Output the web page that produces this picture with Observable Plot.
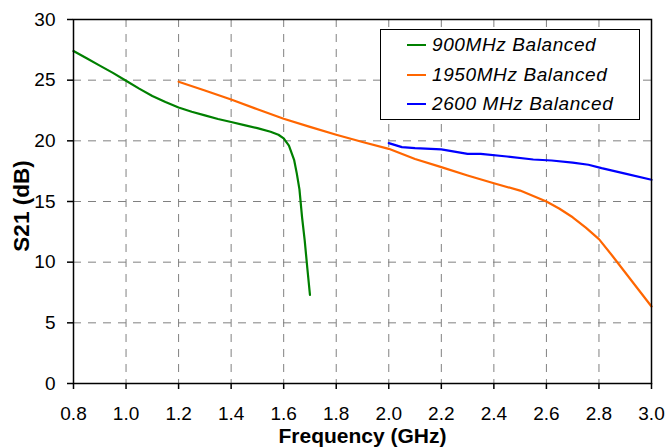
<!DOCTYPE html>
<html>
<head>
<meta charset="utf-8">
<script src="https://cdn.jsdelivr.net/npm/d3@7"></script>
<script src="https://cdn.jsdelivr.net/npm/@observablehq/plot@0.6"></script>
<style>
  html, body { margin: 0; padding: 0; background: #fff; }
  #wrap { position: relative; width: 667px; height: 447px; font-family: "Liberation Sans", Arial, sans-serif; overflow: hidden; }
  #wrap svg { overflow: visible; }
  #legend { position: absolute; left: 380px; top: 29px; width: 258px; height: 89px; border: 1px solid #000; background: #fff; box-sizing: content-box; }
  .swatch { position: absolute; left: 26px; width: 19px; height: 2px; }
  .lbl { position: absolute; left: 51px; font-style: italic; font-size: 19px; letter-spacing: 0.6px; white-space: nowrap; line-height: 20px; }
  #ytitle { position: absolute; left: 22px; top: 206px; transform: translate(-50%, -50%) rotate(-90deg); font-weight: bold; font-size: 22.5px; line-height: 22px; white-space: nowrap; color: #000; }
</style>
</head>
<body>
<div id="wrap"><div id="legend"></div><div id="ytitle"></div></div>
<script>
// ---- data ----
const seriesNames = ["900MHz Balanced", "1950MHz Balanced", "2600 MHz Balanced"];
const seriesColors = ["#008000", "#ff6600", "#0000ff"];

const freq900 = [0.80, 0.85, 0.90, 0.95, 1.00, 1.05, 1.10, 1.15, 1.20, 1.25, 1.30, 1.35, 1.40, 1.45, 1.50, 1.55, 1.58, 1.60, 1.62, 1.64, 1.65, 1.66, 1.67, 1.68, 1.69, 1.70];
const s21_900 = [27.4, 26.8, 26.2, 25.6, 24.95, 24.3, 23.7, 23.2, 22.75, 22.4, 22.1, 21.8, 21.55, 21.3, 21.05, 20.75, 20.5, 20.2, 19.6, 18.4, 17.3, 16.0, 13.7, 11.8, 9.5, 7.3];

const freq1950 = [1.20, 1.30, 1.40, 1.50, 1.60, 1.70, 1.80, 1.90, 2.00, 2.10, 2.20, 2.30, 2.40, 2.50, 2.60, 2.65, 2.70, 2.75, 2.80, 2.85, 2.90, 2.95, 3.00];
const s21_1950 = [24.87, 24.15, 23.4, 22.6, 21.82, 21.15, 20.5, 19.9, 19.34, 18.5, 17.83, 17.14, 16.5, 15.9, 15.0, 14.4, 13.7, 12.85, 11.9, 10.55, 9.15, 7.75, 6.35];

const freq2600 = [2.00, 2.05, 2.10, 2.20, 2.30, 2.35, 2.45, 2.55, 2.62, 2.70, 2.76, 2.81, 2.90, 3.00];
const s21_2600 = [19.81, 19.48, 19.4, 19.29, 18.93, 18.93, 18.71, 18.46, 18.38, 18.2, 18.03, 17.75, 17.3, 16.79];

const xTicks = [0.8, 1.0, 1.2, 1.4, 1.6, 1.8, 2.0, 2.2, 2.4, 2.6, 2.8, 3.0];
const yTicks = [0, 5, 10, 15, 20, 25, 30];
const xTitle = "Frequency (GHz)";
const yTitle = "S21 (dB)";

// ---- build table ----
const series = [
  {name: seriesNames[0], color: seriesColors[0], xs: freq900, ys: s21_900},
  {name: seriesNames[1], color: seriesColors[1], xs: freq1950, ys: s21_1950},
  {name: seriesNames[2], color: seriesColors[2], xs: freq2600, ys: s21_2600}
];
const rows = series.flatMap(s => s.xs.map((x, i) => ({series: s.name, x, y: s.ys[i]})));

const grid = {stroke: "#808080", strokeOpacity: 1, strokeWidth: 1, strokeDasharray: "8,7"};

const chart = Plot.plot({
  width: 667,
  height: 447,
  marginLeft: 73,
  marginRight: 16,
  marginTop: 19,
  marginBottom: 64,
  style: {fontFamily: "'Liberation Sans', Arial, sans-serif", fontSize: "19px", color: "#000", background: "#fff", overflow: "visible"},
  x: {domain: [0.8, 3.0]},
  y: {domain: [0, 30]},
  color: {domain: seriesNames, range: seriesColors},
  marks: [
    Plot.gridX(xTicks, grid),
    Plot.gridY(yTicks, grid),
    Plot.line(rows, {x: "x", y: "y", z: "series", stroke: "series", strokeWidth: 2.2, curve: "linear"}),
    Plot.frame({stroke: "#000", strokeWidth: 1.5}),
    Plot.axisX(xTicks, {tickSize: 6, tickPadding: 16.5, tickFormat: d3.format(".1f"), label: null, fontSize: 19, stroke: "#000", strokeWidth: 1.5}),
    Plot.axisY(yTicks, {tickSize: 6, tickPadding: 12, tickFormat: d3.format("d"), label: null, fontSize: 19, stroke: "#000", strokeWidth: 1.5}),
    Plot.text([xTitle], {frameAnchor: "bottom", lineAnchor: "middle", dy: 52.5, fontWeight: "bold", fontSize: 21, fill: "#000"})
  ]
});
const wrap = document.getElementById("wrap");
wrap.insertBefore(chart, wrap.firstChild);
document.getElementById("ytitle").textContent = yTitle;

// legend
const legend = document.getElementById("legend");
series.forEach((s, i) => {
  const top = 5 + i * 29.5;
  const sw = document.createElement("div");
  sw.className = "swatch";
  sw.style.background = s.color;
  sw.style.top = (top + 9) + "px";
  legend.appendChild(sw);
  const lb = document.createElement("div");
  lb.className = "lbl";
  lb.style.top = top + "px";
  lb.textContent = s.name;
  legend.appendChild(lb);
});
</script>
</body>
</html>
